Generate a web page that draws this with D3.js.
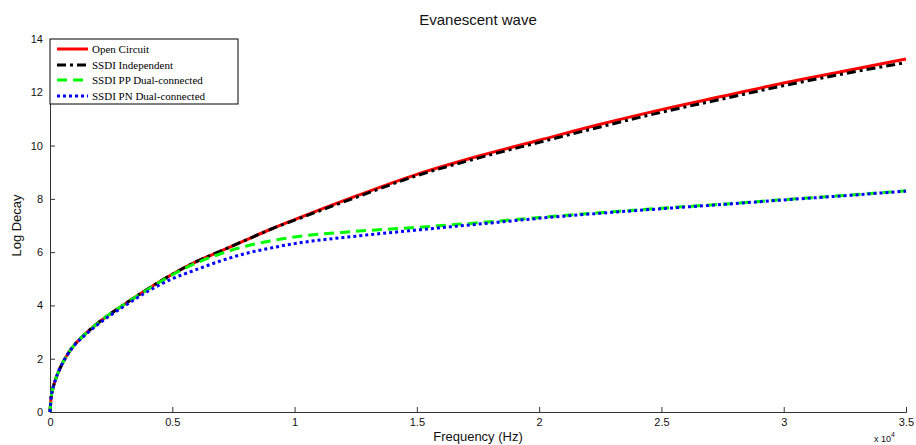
<!DOCTYPE html>
<html><head><meta charset="utf-8">
<script src="https://cdn.jsdelivr.net/npm/d3@7"></script>
<style>body{margin:0;background:#fff}svg{display:block}</style>
</head><body>
<svg id="c" width="916" height="445"></svg>
<script>
// Frequency in units of 1e4 Hz
const freq = [0,0.005,0.01,0.02,0.04,0.06,0.08,0.1,0.15,0.2,0.3,0.4,0.5,0.6,0.7,0.8,0.9,1.0,1.25,1.5,1.75,2.0,2.25,2.5,2.75,3.0,3.25,3.5];
const openCircuit = [0,0.58,0.82,1.15,1.62,1.98,2.28,2.52,2.98,3.37,4.02,4.62,5.17,5.65,6.05,6.45,6.85,7.22,8.1,8.92,9.6,10.2,10.8,11.35,11.85,12.35,12.8,13.25];
const ssdiIndependent = [0,0.58,0.82,1.15,1.62,1.98,2.28,2.52,2.98,3.37,4.02,4.62,5.17,5.65,6.05,6.45,6.85,7.2,8.05,8.87,9.53,10.12,10.7,11.25,11.75,12.25,12.7,13.12];
const ssdiPP = [0,0.58,0.82,1.15,1.62,1.98,2.28,2.52,2.98,3.37,4.02,4.6,5.15,5.6,5.95,6.22,6.42,6.57,6.78,6.93,7.1,7.3,7.48,7.65,7.8,7.97,8.13,8.3];
const ssdiPN = [0,0.58,0.82,1.15,1.62,1.98,2.27,2.5,2.94,3.32,3.95,4.53,5.0,5.35,5.68,5.95,6.15,6.32,6.6,6.83,7.05,7.27,7.46,7.63,7.79,7.96,8.12,8.29];
const seriesNames = ["Open Circuit","SSDI Independent","SSDI PP Dual-connected","SSDI PN Dual-connected"];
const seriesColors = ["#ff0000","#000000","#00ff00","#0000ff"];
const seriesDash = [null,"9,4,3,4","10,6","3,3"];
const xTicks = [0,0.5,1,1.5,2,2.5,3,3.5];
const yTicks = [0,2,4,6,8,10,12,14];

const svg = d3.select("#c");
const L=50, R=906, T=39, B=412;
const x = d3.scaleLinear().domain([0,3.5]).range([L,R]);
const y = d3.scaleLinear().domain([0,14]).range([B,T]);
const font = "'Liberation Sans', Arial, sans-serif";

// axes
const xa = svg.append("g").attr("transform",`translate(0,${B})`)
  .call(d3.axisBottom(x).tickValues(xTicks).tickSize(-5).tickPadding(8).tickFormat(d=>d3.format("")(d)));
const ya = svg.append("g").attr("transform",`translate(${L},0)`)
  .call(d3.axisLeft(y).tickValues(yTicks).tickSize(-5).tickPadding(7));
[xa,ya].forEach(g=>{
  g.select(".domain").attr("stroke","#333").attr("stroke-width",1);
  g.selectAll(".tick line").attr("stroke","#333");
  g.selectAll("text").attr("font-family",font).attr("font-size",11).attr("fill","#111");
});
xa.selectAll("text").attr("dy","0.55em");

const all = [openCircuit, ssdiIndependent, ssdiPP, ssdiPN];
const line = d3.line().x((d,i)=>x(freq[i])).y(d=>y(d)).curve(d3.curveMonotoneX);
all.forEach((vals,k)=>{
  svg.append("path").datum(vals).attr("d",line).attr("fill","none")
    .attr("stroke",seriesColors[k]).attr("stroke-width",3)
    .attr("stroke-dasharray",seriesDash[k]);
});

// title and labels
svg.append("text").attr("x",(L+R)/2).attr("y",25).attr("text-anchor","middle")
  .attr("font-family",font).attr("font-size",15).attr("fill","#111").text("Evanescent wave");
svg.append("text").attr("x",(L+R)/2).attr("y",441).attr("text-anchor","middle")
  .attr("font-family",font).attr("font-size",13).attr("fill","#111").text("Frequency (Hz)");
svg.append("text").attr("transform",`translate(21,${(T+B)/2}) rotate(-90)`).attr("text-anchor","middle")
  .attr("font-family",font).attr("font-size",13).attr("fill","#111").text("Log Decay");
const ex = svg.append("text").attr("x",874).attr("y",442).attr("font-family",font).attr("font-size",9).attr("fill","#111");
ex.append("tspan").text("x 10");
ex.append("tspan").attr("dy",-5).attr("font-size",7).text("4");

// legend
const lg = svg.append("g");
lg.append("rect").attr("x",L).attr("y",T).attr("width",188).attr("height",65)
  .attr("fill","#fff").attr("stroke","#000").attr("stroke-width",1);
const rowsY = [49,65,80,96];
seriesNames.forEach((n,k)=>{
  lg.append("line").attr("x1",57).attr("x2",88).attr("y1",rowsY[k]).attr("y2",rowsY[k])
    .attr("stroke",seriesColors[k]).attr("stroke-width",3).attr("stroke-dasharray",seriesDash[k]);
  lg.append("text").attr("x",92).attr("y",rowsY[k]+4).attr("font-family","'Liberation Serif','Times New Roman',serif")
    .attr("font-size",11).attr("fill","#000").text(n);
});
</script>
</body></html>
